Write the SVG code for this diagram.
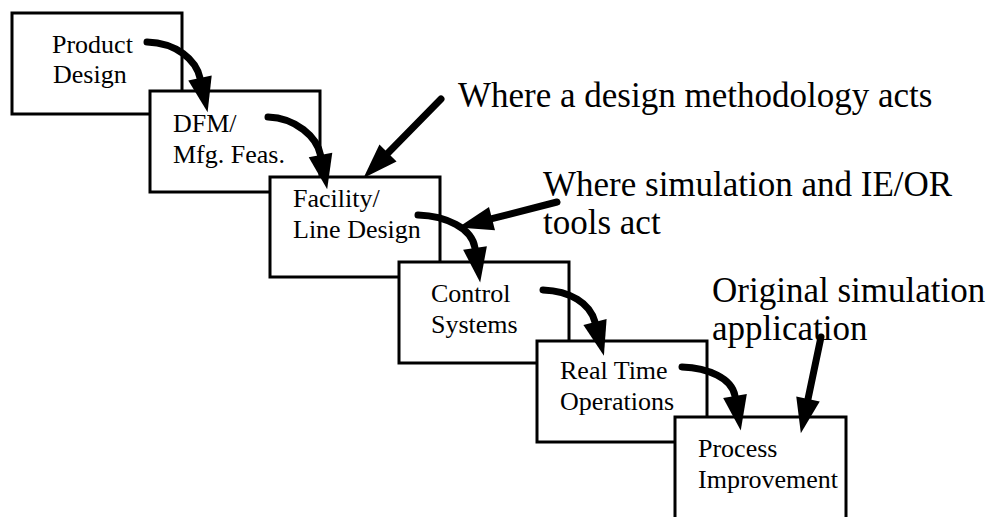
<svg xmlns="http://www.w3.org/2000/svg" width="986" height="517" viewBox="0 0 986 517">
  <defs>
    <style>
      .box { fill: #ffffff; stroke: #000000; stroke-width: 3; }
      .lbl { font-family: "Liberation Serif", "Times New Roman", serif; font-size: 26px; fill: #000000; }
      .note { font-family: "Liberation Serif", "Times New Roman", serif; font-size: 35px; fill: #000000; }
      .arrow { fill: none; stroke: #000000; stroke-width: 7; stroke-linecap: round; marker-end: url(#head); }
    </style>
    <marker id="head" markerUnits="userSpaceOnUse" markerWidth="40" markerHeight="30" refX="0" refY="0" viewBox="0 -15 40 30" orient="auto" overflow="visible">
      <path d="M0,-12 L35,0 L0,12 Z" fill="#000000"/>
    </marker>
  </defs>
  <rect width="986" height="517" fill="#ffffff"/>

  <!-- process stages, stepping down to the right -->
  <g id="product-design">
    <rect class="box" x="12" y="13" width="170" height="101"/>
    <text class="lbl" x="52" y="53">Product</text>
    <text class="lbl" x="53" y="83">Design</text>
  </g>
  <g id="dfm">
    <rect class="box" x="150" y="91" width="170" height="101"/>
    <text class="lbl" x="173" y="132">DFM/</text>
    <text class="lbl" x="173" y="163">Mfg. Feas.</text>
  </g>
  <g id="facility-design">
    <rect class="box" x="270" y="177" width="170" height="100"/>
    <text class="lbl" x="293" y="207">Facility/</text>
    <text class="lbl" x="293" y="238">Line Design</text>
  </g>
  <g id="control-systems">
    <rect class="box" x="399" y="262" width="170" height="101"/>
    <text class="lbl" x="431" y="302">Control</text>
    <text class="lbl" x="431" y="333">Systems</text>
  </g>
  <g id="real-time-operations">
    <rect class="box" x="537" y="341" width="170" height="101"/>
    <text class="lbl" x="560" y="379">Real Time</text>
    <text class="lbl" x="560" y="410">Operations</text>
  </g>
  <g id="process-improvement">
    <rect class="box" x="675" y="417" width="171" height="123"/>
    <text class="lbl" x="698" y="457">Process</text>
    <text class="lbl" x="698" y="488">Improvement</text>
  </g>

  <!-- annotations -->
  <g id="note-design">
    <text class="note" x="458" y="107">Where a design methodology acts</text>
  </g>
  <g id="note-simulation">
    <text class="note" x="543" y="196">Where simulation and IE/OR</text>
    <text class="note" x="543" y="234">tools act</text>
  </g>
  <g id="note-original">
    <text class="note" x="712" y="302">Original simulation</text>
    <text class="note" x="712" y="340">application</text>
  </g>

  <!-- connectors -->
  <g id="connectors">
    <path class="arrow" d="M147,42 C177,43 196,60 200,78"/>
    <path class="arrow" d="M268,117 C296,118 317,137 320.5,155"/>
    <path class="arrow" d="M418,215 C446,216 472,228 475,248"/>
    <path class="arrow" d="M543,290 C570,291 590,303 595,322"/>
    <path class="arrow" d="M682,367 C708,368 732,378 735,396"/>
    <path class="arrow" d="M821,337 L808,399"/>
    <path class="arrow" d="M441,99 L388,153"/>
    <path class="arrow" d="M557,202 L492,218.7"/>
  </g>
</svg>
